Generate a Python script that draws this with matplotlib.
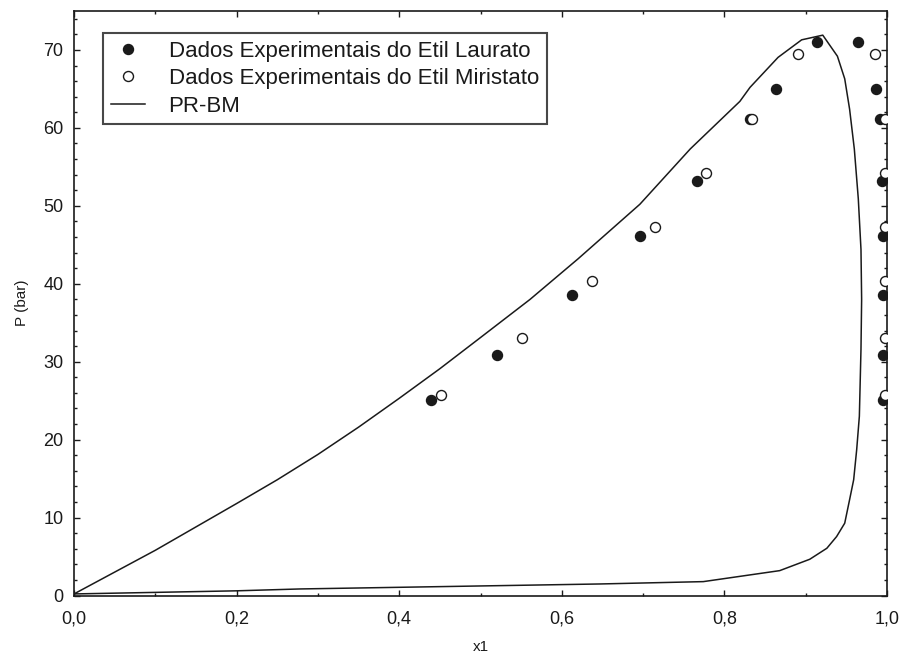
import matplotlib
matplotlib.use("Agg")
import matplotlib.pyplot as plt
from matplotlib.ticker import MultipleLocator, FuncFormatter

plt.rcParams['font.family'] = ['Liberation Sans', 'DejaVu Sans']

# experimental data - ethyl laurate (filled)
laur_p = [25.1, 30.8, 38.6, 46.1, 53.2, 61.1, 65.0, 71.05]
laur_x_bub = [0.439, 0.520, 0.6125, 0.6966, 0.7663, 0.831, 0.8635, 0.9135]
laur_x_dew = [0.9955, 0.9955, 0.9955, 0.9955, 0.994, 0.991, 0.9865, 0.9647]

# experimental data - ethyl myristate (open)
mir_p = [25.7, 33.1, 40.4, 47.3, 54.2, 61.1, 69.5]
mir_x_bub = [0.452, 0.551, 0.6375, 0.7146, 0.777, 0.834, 0.891]
mir_x_dew = [0.9975, 0.9975, 0.9975, 0.9975, 0.9975, 0.9975, 0.9857]

# PR-BM envelope (bubble branch then dew branch back to origin)
prbm_x = [0.0, 0.1, 0.2, 0.25, 0.3, 0.35, 0.4, 0.45, 0.5, 0.561, 0.62, 0.696,
          0.758, 0.819, 0.8315, 0.866, 0.895, 0.921,
          0.939, 0.948, 0.954, 0.9598, 0.9647, 0.968, 0.9688, 0.968, 0.966,
          0.9627, 0.959, 0.954, 0.948, 0.938, 0.926, 0.905, 0.868, 0.774,
          0.647, 0.278, 0.2, 0.0]
prbm_p = [0.2, 5.8, 11.8, 14.85, 18.1, 21.6, 25.3, 29.1, 33.1, 38.0, 43.2, 50.2,
          57.3, 63.4, 65.2, 69.05, 71.3, 71.9,
          69.2, 66.3, 62.4, 57.3, 50.9, 44.4, 38.0, 31.6, 23.0,
          18.7, 14.85, 12.3, 9.28, 7.56, 6.06, 4.65, 3.19, 1.78,
          1.48, 0.84, 0.6, 0.2]

ink = '#1a1a1a'

fig = plt.figure(figsize=(9.06, 6.62), dpi=100)
ax = fig.add_axes([74 / 906, 1 - 595.5 / 662, 813 / 906, 584.5 / 662])

ax.plot(laur_x_bub + laur_x_dew, laur_p + laur_p, 'o', ms=7.2, color=ink,
        mec=ink, label='Dados Experimentais do Etil Laurato', zorder=3)
ax.plot(mir_x_bub + mir_x_dew, mir_p + mir_p, 'o', ms=7.2, mfc='white',
        mec=ink, mew=1.0, label='Dados Experimentais do Etil Miristato', zorder=4)
ax.plot(prbm_x, prbm_p, '-', color=ink, lw=1.1, label='PR-BM', zorder=2)

ax.set_xlim(0, 1.0)
ax.set_ylim(0, 75)
ax.xaxis.set_major_locator(MultipleLocator(0.2))
ax.xaxis.set_minor_locator(MultipleLocator(0.1))
ax.yaxis.set_major_locator(MultipleLocator(10))
ax.yaxis.set_minor_locator(MultipleLocator(2))
ax.xaxis.set_major_formatter(FuncFormatter(lambda v, p: f"{v:.1f}".replace('.', ',')))
ax.yaxis.set_major_formatter(FuncFormatter(lambda v, p: f"{v:.0f}"))

ax.tick_params(which='both', direction='in', top=True, right=True,
               colors=ink, labelsize=13, width=1.0)
ax.tick_params(which='major', length=4)
ax.tick_params(which='minor', length=2.5)
ax.tick_params(axis='x', which='major', pad=11)
ax.tick_params(axis='y', which='major', pad=7.5)
for s in ax.spines.values():
    s.set_linewidth(1.2)
    s.set_color(ink)

ax.set_xlabel('x1', fontsize=11, color=ink, labelpad=9)
ax.set_ylabel('P (bar)', fontsize=11, color=ink, labelpad=10)

leg = ax.legend(loc='upper left', bbox_to_anchor=(0.0357, 0.9624),
                borderaxespad=0, fontsize=16, frameon=True, fancybox=False,
                labelspacing=0.29, handlelength=1.55, handletextpad=1.05,
                borderpad=0.35)
leg.get_frame().set_edgecolor(ink)
leg.get_frame().set_linewidth(1.5)
for t in leg.get_texts():
    t.set_color(ink)

fig.savefig('out.png', dpi=100)
